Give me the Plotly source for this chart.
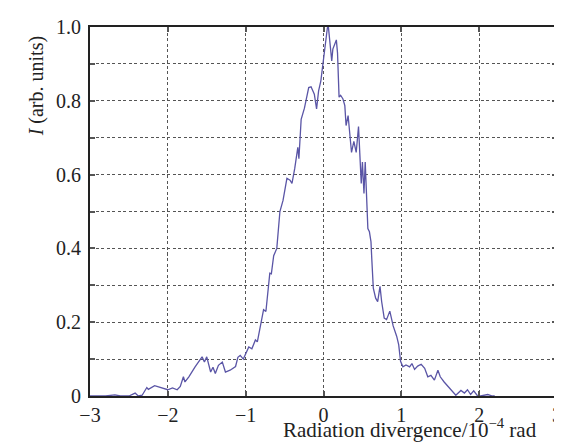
import plotly.graph_objects as go

# radiation divergence (units of 1e-4 rad) and intensity (arb. units)
divergence = [
    -3.0, -2.8, -2.68, -2.61, -2.5, -2.42, -2.38, -2.33, -2.27, -2.25,
    -2.17, -2.10, -2.0, -1.94, -1.88, -1.84, -1.80, -1.78, -1.73, -1.65,
    -1.56, -1.53, -1.50, -1.45, -1.42, -1.39, -1.35, -1.30, -1.26, -1.20,
    -1.13, -1.10, -1.07, -1.03, -1.0, -0.96, -0.92, -0.875, -0.85, -0.81,
    -0.77, -0.74, -0.71, -0.69, -0.67, -0.64, -0.60, -0.58, -0.56, -0.52,
    -0.47, -0.43, -0.405, -0.37, -0.35, -0.33, -0.316, -0.30, -0.287, -0.245,
    -0.224, -0.19, -0.16, -0.118, -0.089, -0.063, -0.034, -0.013, 0.008, 0.03,
    0.05, 0.063, 0.08, 0.106, 0.12, 0.148, 0.165, 0.18, 0.19, 0.2,
    0.22, 0.25, 0.274, 0.29, 0.316, 0.333, 0.36, 0.39, 0.42, 0.45,
    0.464, 0.485, 0.50, 0.52, 0.536, 0.557, 0.57, 0.59, 0.61, 0.62,
    0.64, 0.67, 0.696, 0.726, 0.747, 0.78, 0.81, 0.852, 0.895, 0.94,
    0.966, 0.99, 1.02, 1.06, 1.106, 1.136, 1.17, 1.21, 1.255, 1.30,
    1.34, 1.38, 1.425, 1.47, 1.50, 1.55, 1.62, 1.70, 1.766, 1.81,
    1.85, 1.89, 1.93, 1.98, 2.02, 2.11, 2.17, 2.2,
]
intensity = [
    0.0, 0.0, 0.003, 0.0, 0.0, 0.008, 0.0, 0.002, 0.023, 0.018,
    0.028, 0.024, 0.017, 0.022, 0.017, 0.026, 0.052, 0.038, 0.052, 0.079,
    0.106, 0.092, 0.106, 0.065, 0.078, 0.061, 0.083, 0.092, 0.065, 0.07,
    0.08, 0.105, 0.11, 0.10, 0.115, 0.133, 0.128, 0.152, 0.147, 0.19,
    0.234, 0.229, 0.30, 0.333, 0.331, 0.38, 0.40, 0.454, 0.50, 0.53,
    0.59, 0.585, 0.576, 0.616, 0.643, 0.674, 0.643, 0.69, 0.75, 0.78,
    0.805, 0.836, 0.838, 0.818, 0.778, 0.827, 0.854, 0.89, 0.93, 0.976,
    0.998, 1.0, 0.967, 0.908, 0.94, 0.96, 0.965, 0.93, 0.85, 0.81,
    0.815, 0.805, 0.787, 0.733, 0.76, 0.728, 0.66, 0.69, 0.66, 0.73,
    0.67, 0.576, 0.634, 0.549, 0.634, 0.535, 0.454, 0.445, 0.418, 0.373,
    0.292, 0.265, 0.256, 0.297, 0.256, 0.211, 0.207, 0.23, 0.19, 0.162,
    0.139, 0.094, 0.079, 0.084, 0.079, 0.088, 0.072, 0.081, 0.086, 0.075,
    0.052, 0.056, 0.043, 0.07, 0.052, 0.038, 0.02, 0.002, 0.015, 0.008,
    0.017, 0.004, 0.014, 0.0, 0.0, 0.004, 0.0, 0.0,
]

x_ticks = [-3, -2, -1, 0, 1, 2, 3]
x_labels = ["\u22123", "\u22122", "\u22121", "0", "1", "2", "3"]
y_ticks = [0, 0.2, 0.4, 0.6, 0.8, 1.0]
y_labels = ["0", "0.2", "0.4", "0.6", "0.8", "1.0"]

serif = "Liberation Serif, Times New Roman, serif"
grid = dict(gridcolor="#555", gridwidth=1.4, griddash="3px,2.5px")

fig = go.Figure(go.Scatter(x=divergence, y=intensity, mode="lines",
                           line=dict(color="#5a55a6", width=1.3)))

axis_style = dict(showline=True, linecolor="#222", linewidth=2, mirror="ticks",
                  ticks="inside", ticklen=5, tickcolor="#555", tickwidth=1.5,
                  showgrid=True, zeroline=False,
                  tickfont=dict(family=serif, size=20, color="#222"), **grid)

fig.update_xaxes(range=[-3, 3], tickvals=x_ticks, ticktext=x_labels,
                 ticklabelstandoff=0, **axis_style)
fig.update_yaxes(range=[0, 1], tickvals=y_ticks, ticktext=y_labels,
                 ticklabelstandoff=3,
                 minor=dict(tick0=0, dtick=0.1, showgrid=True, ticks="inside",
                            ticklen=5, tickcolor="#555", tickwidth=1.5, **grid),
                 **axis_style)

fig.add_annotation(text="Radiation divergence/10<sup>\u22124</sup> rad",
                   xref="paper", yref="paper", x=0.962, y=-0.13,
                   xanchor="right", yanchor="bottom", showarrow=False,
                   font=dict(family=serif, size=21, color="#222"))
fig.add_annotation(text="<i>I</i> (arb. units)", textangle=-90,
                   xref="paper", yref="paper", x=-0.115, y=0.84,
                   xanchor="center", yanchor="middle", showarrow=False,
                   font=dict(family=serif, size=20, color="#222"))

fig.update_layout(width=562, height=443, showlegend=False,
                  margin=dict(l=82, r=8, t=18, b=55),
                  plot_bgcolor="white", paper_bgcolor="white")

fig.write_html("out.html")
